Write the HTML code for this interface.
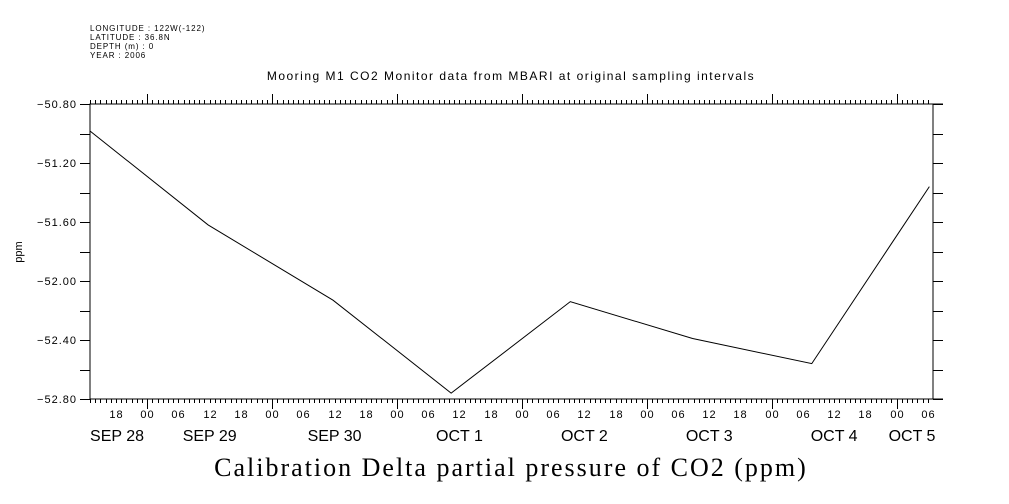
<!DOCTYPE html>
<html><head><meta charset="utf-8"><style>
body{margin:0;background:#fff}
svg{display:block;font-family:"Liberation Sans",sans-serif}
</style></head><body>
<svg id="c" width="1009" height="504">
<g letter-spacing="0.9">
<text x="90" y="31" font-size="8">LONGITUDE : 122W(-122)</text>
<text x="90" y="40" font-size="8">LATITUDE : 36.8N</text>
<text x="90" y="49" font-size="8">DEPTH (m) : 0</text>
<text x="90" y="58" font-size="8">YEAR : 2006</text>
</g>
<text x="511" y="80" font-size="12" letter-spacing="1.5" text-anchor="middle">Mooring M1 CO2 Monitor data from MBARI at original sampling intervals</text>
<text x="22" y="252" font-size="11" text-anchor="middle" transform="rotate(-90 22 252)">ppm</text>
<text x="511" y="476" font-size="26" letter-spacing="2" text-anchor="middle" font-family="Liberation Serif,serif">Calibration Delta partial pressure of CO2 (ppm)</text>
<g id="ax"></g>
</svg>
<script>
const hours=[13,35.7,59.7,82.4,105.3,128.8,151.7,174.3];
const values=[-50.983,-51.62,-52.13,-52.76,-52.14,-52.39,-52.56,-51.36];
const yTicks=[-50.8,-51.2,-51.6,-52.0,-52.4,-52.8];
const dayLabels=["SEP 28","SEP 29","SEP 30","OCT  1","OCT  2","OCT  3","OCT  4","OCT  5"];
const hourLabels=["00","06","12","18"];
const X0=90,X1=933,Y0=104,Y1=399,H0=13,H1=175,V0=-50.8,V1=-52.8;
const sx=h=>X0+(h-H0)/(H1-H0)*(X1-X0);
const sy=v=>Y0+(v-V0)/(V1-V0)*(Y1-Y0);
const g=document.getElementById('ax');const NS='http://www.w3.org/2000/svg';
function el(t,a,txt){const e=document.createElementNS(NS,t);for(const k in a)e.setAttribute(k,a[k]);if(txt!==undefined)e.textContent=txt;g.appendChild(e);return e;}
let f=el('rect',{x:X0,y:Y0,width:X1-X0,height:Y1-Y0,fill:'none',stroke:'#000','stroke-width':1});

el('line',{x1:X1,y1:Y0,x2:X1+10,y2:Y0,stroke:'#000'});
el('line',{x1:X1,y1:Y1,x2:X1+10,y2:Y1,stroke:'#000'});
for(let h=H0;h<=H1-1;h++){const x=Math.round(sx(h))+0.5;const L=(h%24==0)?10:4;
 let t=el('line',{x1:x,y1:Y0,x2:x,y2:Y0-L,stroke:'#000'});
 let b=el('line',{x1:x,y1:Y1,x2:x,y2:Y1+L,stroke:'#000'});
 if(h%6==0){let tl=el('text',{x:x,y:418,'font-size':11,'letter-spacing':1,'text-anchor':'middle'},hourLabels[(h%24)/6]);}
}
dayLabels.forEach((d,i)=>{let x=sx(i*24+12);if(x<X0+27)x=X0+27;if(x>X1-21)x=X1-21;
 let t=el('text',{x:x,y:441,'font-size':16,'text-anchor':'middle','xml:space':'preserve'},d);});
for(let v=-50.8;v>=-52.81;v-=0.2){const y=Math.round(sy(v))+0.5;
 let a=el('line',{x1:X0-10,y1:y,x2:X0,y2:y,stroke:'#000'});
 let b=el('line',{x1:X1,y1:y,x2:X1+10,y2:y,stroke:'#000'});}
yTicks.forEach(v=>{let t=el('text',{x:X0-13,y:sy(v)+4,'font-size':11,'letter-spacing':1,'text-anchor':'end'},v.toFixed(2).replace('-','\u2212'));});
let p=el('polyline',{points:hours.map((h,i)=>sx(h)+','+sy(values[i])).join(' '),fill:'none',stroke:'#000','stroke-width':1});

</script>
</body></html>
